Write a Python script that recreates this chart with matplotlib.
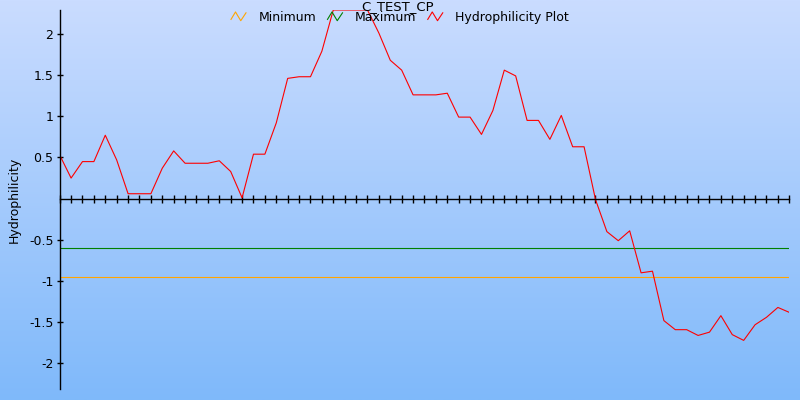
import matplotlib
matplotlib.use("Agg")
import matplotlib.pyplot as plt
import numpy as np
from matplotlib.legend_handler import HandlerBase
from matplotlib.lines import Line2D

# hydrophilicity value per residue window
hydro = [0.53, 0.25, 0.45, 0.45, 0.77, 0.47, 0.06, 0.06, 0.06, 0.37,
         0.58, 0.43, 0.43, 0.43, 0.46, 0.33, 0.01, 0.54, 0.54, 0.92,
         1.46, 1.48, 1.48, 1.79, 2.29, 2.29, 2.29, 2.29, 2.01, 1.68,
         1.56, 1.26, 1.26, 1.26, 1.28, 0.99, 0.99, 0.78, 1.07, 1.56,
         1.49, 0.95, 0.95, 0.72, 1.01, 0.63, 0.63, -0.01, -0.40, -0.51,
         -0.39, -0.90, -0.88, -1.48, -1.59, -1.59, -1.66, -1.62, -1.42, -1.65,
         -1.72, -1.53, -1.44, -1.32, -1.38]
positions = np.arange(len(hydro))
minimum = -0.95
maximum = -0.60
yticks = [-2, -1.5, -1, -0.5, 0.5, 1, 1.5, 2]
ytick_labels = ['-2', '-1.5', '-1', '-0.5', '0.5', '1', '1.5', '2']


class ZigZag(HandlerBase):
    # little "/\/" icon like the original legend
    def create_artists(self, legend, orig_handle, xdescent, ydescent,
                       width, height, fontsize, trans):
        xs = np.array([0.0, 0.3, 0.65, 1.0]) * width - xdescent
        ys = np.array([0.15, 1.0, 0.0, 0.9]) * height - ydescent
        ln = Line2D(xs, ys, color=orig_handle.get_color(), lw=0.8)
        ln.set_transform(trans)
        return [ln]


plt.rcParams['font.family'] = 'DejaVu Sans'
plt.rcParams['font.size'] = 9

fig = plt.figure(figsize=(8, 4), dpi=100)

# gradient background
bg = fig.add_axes([0, 0, 1, 1], zorder=0)
grad = np.linspace(0, 1, 256).reshape(-1, 1)
top = np.array([202, 220, 255]) / 255
bottom = np.array([127, 185, 250]) / 255
img = top + (bottom - top) * grad[:, :, None]
bg.imshow(img, aspect='auto', extent=[0, 1, 0, 1])
bg.axis('off')

ax = fig.add_axes([0.0746, 0.0275, 0.912, 0.9475], zorder=1)
ax.patch.set_alpha(0)

ax.axhline(minimum, color='orange', lw=0.8, label='Minimum')
ax.axhline(maximum, color='green', lw=0.8, label='Maximum')
ax.plot(positions, hydro, color='red', lw=0.8, label='Hydrophilicity Plot')

ax.set_xlim(0, len(hydro) - 1)
ax.set_ylim(-2.31, 2.29)

ax.spines['top'].set_visible(False)
ax.spines['right'].set_visible(False)
ax.spines['bottom'].set_position(('data', 0))
ax.spines['left'].set_linewidth(1)
ax.spines['bottom'].set_linewidth(1)

ax.set_xticks(positions)
ax.set_xticklabels([])
ax.tick_params(axis='x', direction='inout', length=6, width=1)
ax.set_yticks(yticks)
ax.set_yticklabels(ytick_labels)
ax.tick_params(axis='y', direction='inout', length=5, width=1, pad=2)

ax.set_ylabel('Hydrophilicity')
ax.yaxis.set_label_coords(-0.053, 0.5)

fig.text(0.4975, 0.999, 'C_TEST_CP', ha='center', va='top', fontsize=9.5)

h, l = ax.get_legend_handles_labels()
fig.legend(h, l, loc='center', bbox_to_anchor=(0.5, 0.957), ncol=3,
           frameon=False, handlelength=1.2, handletextpad=1.0,
           columnspacing=0.9, fontsize=9,
           handler_map={Line2D: ZigZag()})

fig.savefig('out.png', dpi=100)
